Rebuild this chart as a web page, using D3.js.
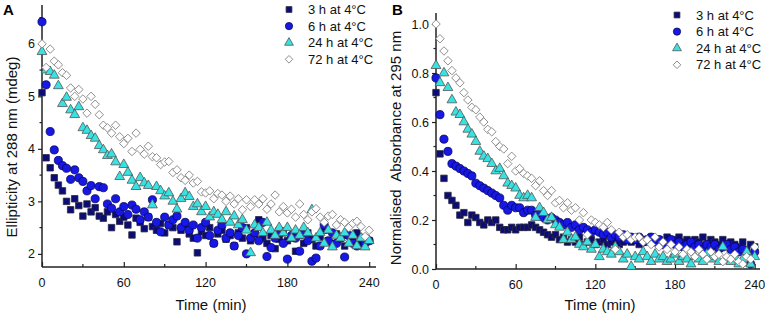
<!DOCTYPE html>
<html>
<head>
<meta charset="utf-8">
<script src="https://cdn.jsdelivr.net/npm/d3@7"></script>
<style>
  body { margin: 0; background: #fff; }
  svg { font-family: Arial, "Liberation Sans", sans-serif; }
</style>
</head>
<body>
<script>
// sampling times (min), same grid for every series
const timeMin = [0,3,6,9,12,15,18,21,24,27,30,33,36,39,42,45,48,51,54,57,60,63,66,69,72,75,78,81,84,87,90,93,96,99,102,105,108,111,114,117,120,123,126,129,132,135,138,141,144,147,150,153,156,159,162,165,168,171,174,177,180,183,186,189,192,195,198,201,204,207,210,213,216,219,222,225,228,231,234,237,240];

const seriesNames = ["3 h at 4°C", "6 h at 4°C", "24 h at 4°C", "72 h at 4°C"];

// panel A : ellipticity at 288 nm (mdeg)
const ellip3h = [5.07,3.83,3.64,3.45,3.31,3.2,3.0,2.84,3.05,2.92,2.72,2.95,2.8,2.88,2.72,2.68,2.8,2.5,2.75,2.62,2.7,2.55,2.36,2.68,2.6,2.48,2.7,2.52,2.45,2.58,2.4,2.55,2.5,2.23,2.45,2.55,2.38,2.3,2.02,2.42,2.35,2.5,2.2,2.38,2.45,2.28,2.35,2.15,2.4,2.3,2.5,2.25,2.38,2.65,2.3,2.2,2.35,2.1,2.28,2.4,2.25,2.3,2.05,2.35,2.2,2.4,2.28,2.15,2.32,2.45,2.25,2.2,2.38,2.3,2.15,2.35,2.25,2.4,2.2,2.3,2.25];
const ellip6h = [6.42,5.22,4.33,3.98,3.78,3.68,3.63,3.42,3.6,3.45,3.38,3.2,3.3,3.05,3.28,3.26,2.95,2.87,3.05,2.8,2.9,2.75,2.93,2.85,2.65,2.8,2.7,3.03,2.6,2.42,2.7,2.55,2.65,2.72,2.5,2.6,2.45,2.55,2.3,2.5,2.6,2.35,2.2,2.45,2.55,2.3,2.4,2.15,2.35,2.5,2.0,2.3,2.4,2.25,2.6,1.95,2.12,2.3,2.45,2.2,1.9,2.35,2.3,2.05,2.4,2.25,1.86,1.92,2.15,2.55,2.25,2.4,2.2,2.3,1.94,2.35,2.2,2.15,2.3,2.2,2.25];
const ellip24h = [5.85,5.5,5.47,5.4,5.2,4.86,4.98,4.74,4.65,4.8,4.4,4.35,4.25,4.2,4.06,3.98,3.87,3.9,3.75,3.47,3.7,3.55,3.4,3.28,3.45,3.35,3.3,2.93,3.28,3.2,3.1,3.16,3.0,2.85,3.05,3.16,3.09,2.9,2.95,2.8,2.9,2.7,2.8,2.75,2.65,2.8,2.6,2.72,2.55,2.65,2.45,2.02,2.55,2.5,2.4,2.6,2.45,2.35,2.5,2.4,2.5,2.3,2.45,2.35,2.5,2.4,2.84,2.3,2.4,2.2,2.45,2.13,2.35,2.3,2.4,2.2,2.35,2.15,2.3,2.13,2.25];
const ellip72h = [6.0,5.55,5.9,5.67,5.6,5.45,5.4,5.16,5.0,5.13,4.95,4.68,5.0,4.85,4.65,4.45,4.4,4.3,4.45,4.23,4.1,4.2,3.95,4.3,3.99,3.9,4.05,3.85,3.83,3.7,3.75,3.76,3.55,3.6,3.45,3.4,3.5,3.35,3.38,3.18,3.16,3.2,3.05,3.15,3.12,3.0,3.1,2.95,3.05,2.84,3.03,2.9,3.03,2.95,3.05,2.85,2.95,3.12,2.8,2.9,2.78,2.85,2.7,2.95,2.75,2.65,2.8,2.86,2.7,2.6,2.72,2.75,2.55,2.65,2.6,2.5,2.58,2.62,2.52,2.33,2.45];

// panel B : normalised absorbance at 295 nm
const abs3h = [0.72,0.47,0.37,0.3,0.28,0.26,0.22,0.23,0.19,0.22,0.21,0.19,0.18,0.2,0.19,0.2,0.17,0.16,0.16,0.17,0.16,0.17,0.17,0.17,0.18,0.17,0.16,0.15,0.14,0.13,0.14,0.12,0.13,0.11,0.12,0.11,0.13,0.1,0.11,0.12,0.1,0.11,0.12,0.1,0.11,0.12,0.1,0.11,0.13,0.11,0.12,0.1,0.12,0.11,0.13,0.11,0.12,0.1,0.13,0.11,0.12,0.13,0.11,0.12,0.1,0.12,0.11,0.13,0.1,0.12,0.11,0.1,0.12,0.1,0.11,0.1,0.09,0.11,0.08,0.1,0.09];
const abs6h = [0.78,0.63,0.53,0.48,0.43,0.42,0.41,0.4,0.39,0.38,0.35,0.34,0.33,0.32,0.31,0.3,0.29,0.26,0.24,0.26,0.25,0.25,0.23,0.24,0.24,0.22,0.23,0.21,0.2,0.21,0.2,0.19,0.18,0.19,0.17,0.18,0.16,0.17,0.16,0.15,0.16,0.15,0.14,0.15,0.13,0.14,0.13,0.14,0.12,0.13,0.12,0.13,0.11,0.12,0.13,0.11,0.12,0.1,0.11,0.12,0.1,0.11,0.09,0.1,0.11,0.09,0.1,0.08,0.1,0.09,0.1,0.08,0.09,0.1,0.08,0.09,0.07,0.08,0.06,0.02,0.07];
const abs24h = [0.83,0.76,0.8,0.74,0.69,0.64,0.63,0.6,0.57,0.55,0.52,0.48,0.46,0.45,0.43,0.4,0.41,0.38,0.35,0.34,0.33,0.3,0.29,0.3,0.29,0.21,0.25,0.23,0.2,0.21,0.18,0.17,0.12,0.15,0.12,0.13,0.1,0.09,0.11,0.08,0.1,0.05,0.08,0.07,0.06,0.09,0.07,0.04,0.06,0.01,0.05,0.04,0.07,0.05,0.03,0.06,0.04,0.05,0.03,0.04,0.06,0.03,0.05,0.04,0.02,0.05,0.04,0.03,0.06,0.04,0.05,0.03,0.09,0.04,0.03,0.05,0.02,0.04,0.07,0.02,0.05];
const abs72h = [1.0,0.94,0.89,0.85,0.81,0.78,0.76,0.72,0.69,0.66,0.65,0.62,0.6,0.57,0.56,0.52,0.5,0.49,0.43,0.46,0.4,0.41,0.39,0.38,0.37,0.34,0.36,0.32,0.3,0.32,0.27,0.28,0.25,0.27,0.24,0.25,0.2,0.23,0.14,0.2,0.19,0.18,0.17,0.19,0.16,0.08,0.15,0.13,0.14,0.12,0.13,0.13,0.11,0.12,0.1,0.13,0.09,0.11,0.08,0.1,0.07,0.09,0.06,0.08,0.07,0.05,0.08,0.06,0.04,0.07,0.05,0.06,0.03,0.05,0.04,0.06,0.03,0.02,0.05,0.04,0.09];

// tick values
const timeTicks = [0, 60, 120, 180, 240];
const timeMinor = [30, 90, 150, 210];
const ellipTicks = [2, 3, 4, 5, 6];
const ellipMinor = [2.5, 3.5, 4.5, 5.5, 6.5];
const absTicks = [0, 0.2, 0.4, 0.6, 0.8, 1.0];
const absMinor = [0.1, 0.3, 0.5, 0.7, 0.9];

// marker look for each series, in legend order
const styles = [
    {shape: d3.symbolSquare, size: 42, fill: "#0c0c78", stroke: "#2a2a40", rot: 0},
    {shape: d3.symbolCircle, size: 52, fill: "#1818e6", stroke: "#06065a", rot: 0},
    {shape: d3.symbolTriangle, size: 42, fill: "#36e2e2", stroke: "#555", rot: 0},
    {shape: d3.symbolSquare, size: 36, fill: "#ffffff", stroke: "#7a7a7a", rot: 45}
];

const svg = d3.select("body").append("svg")
    .attr("width", 765)
    .attr("height", 315);

function Panel(cfg) {
    let obj = {};
    let g, xscale, yscale;

    obj.setUp = () => {
        g = svg.append("g");
        xscale = d3.scaleLinear().domain(cfg.xDomain).range(cfg.xRange);
        yscale = d3.scaleLinear().domain(cfg.yDomain).range(cfg.yRange);
        obj.drawAxes();
        obj.drawPoints();
        obj.drawLegend();
        obj.drawTitles();
    }

    obj.drawAxes = () => {
        const y0 = cfg.yRange[0];
        const x0 = cfg.xRange[0];

        // x axis, ticks point into the plot
        const xa = g.append("g").attr("transform", "translate(0," + y0 + ")");
        xa.call(d3.axisTop(xscale).tickValues(timeTicks).tickSize(5).tickFormat(""));
        xa.call(ax => ax.select(".domain").remove());
        xa.selectAll("g.minor").data(timeMinor).enter()
            .append("line")
            .attr("x1", d => xscale(d)).attr("x2", d => xscale(d))
            .attr("y1", 0).attr("y2", -3);
        xa.selectAll("line").attr("stroke", "#222").attr("stroke-width", 1.2);
        xa.append("line")
            .attr("x1", cfg.xRange[0]).attr("x2", cfg.xRange[1])
            .attr("stroke", "#222").attr("stroke-width", 1.5);
        xa.selectAll("text.lab").data(timeTicks).enter()
            .append("text")
            .attr("x", d => xscale(d))
            .attr("y", 20)
            .attr("text-anchor", "middle")
            .attr("font-size", 12.5)
            .attr("fill", "#111")
            .text(d => d);

        // y axis, ticks point outwards
        const ya = g.append("g").attr("transform", "translate(" + x0 + ",0)");
        ya.call(d3.axisLeft(yscale).tickValues(cfg.yTicks).tickSize(4).tickPadding(3)
            .tickFormat(cfg.yFormat));
        ya.select(".domain").remove();
        ya.selectAll(".minor").data(cfg.yMinor).enter()
            .append("line")
            .attr("x1", 0).attr("x2", -2.5)
            .attr("y1", d => yscale(d)).attr("y2", d => yscale(d));
        ya.selectAll("line").attr("stroke", "#222").attr("stroke-width", 1.2);
        ya.append("line")
            .attr("y1", cfg.yRange[0]).attr("y2", cfg.yRange[1])
            .attr("stroke", "#222").attr("stroke-width", 1.5);
        ya.selectAll("text")
            .attr("font-size", 12.5)
            .attr("font-family", "Arial, 'Liberation Sans', sans-serif")
            .attr("fill", "#111");
    }

    obj.drawPoints = () => {
        cfg.series.forEach((vals, k) => {
            const st = styles[k];
            const sym = d3.symbol().type(st.shape).size(st.size);
            g.append("g").selectAll("path")
                .data(vals)
                .enter()
                .append("path")
                .attr("d", sym)
                .attr("transform", (d, i) => "translate(" + xscale(timeMin[i]) + "," + yscale(d) + ") rotate(" + st.rot + ")")
                .attr("fill", st.fill)
                .attr("stroke", st.stroke)
                .attr("stroke-width", 0.8);
        });
    }

    obj.drawLegend = () => {
        const lg = g.append("g");
        seriesNames.forEach((name, k) => {
            const st = styles[k];
            const y = cfg.legend.y + k * cfg.legend.step;
            lg.append("path")
                .attr("d", d3.symbol().type(st.shape).size(st.size * 0.8))
                .attr("transform", "translate(" + cfg.legend.x + "," + y + ") rotate(" + st.rot + ")")
                .attr("fill", st.fill)
                .attr("stroke", st.stroke)
                .attr("stroke-width", 0.8);
            lg.append("text")
                .attr("x", cfg.legend.x + 19)
                .attr("y", y + 4.5)
                .attr("font-size", 13)
                .attr("fill", "#111")
                .text(name);
        });
    }

    obj.drawTitles = () => {
        const midX = (cfg.xRange[0] + cfg.xRange[1]) / 2;
        g.append("text")
            .attr("x", midX + 2)
            .attr("y", 310)
            .attr("text-anchor", "middle")
            .attr("font-size", 15)
            .attr("fill", "#111")
            .text("Time (min)");
        g.append("text")
            .attr("transform", "translate(" + cfg.yTitleX + "," + cfg.yTitleY + ") rotate(-90)")
            .attr("text-anchor", "middle")
            .attr("font-size", cfg.yTitleSize)
            .attr("fill", "#111")
            .style("white-space", "pre")
            .text(cfg.yTitle);
        g.append("text")
            .attr("x", cfg.letter.x)
            .attr("y", cfg.letter.y)
            .attr("font-size", 15)
            .attr("font-weight", "bold")
            .attr("fill", "#000")
            .text(cfg.letter.t);
    }

    return obj;
}

const panelA = Panel({
    xDomain: [0, 245], xRange: [42, 376],
    yDomain: [1.75, 6.74], yRange: [267, 5],
    yTicks: ellipTicks, yMinor: ellipMinor, yFormat: d3.format("d"),
    series: [ellip3h, ellip6h, ellip24h, ellip72h],
    legend: {x: 289, y: 9.5, step: 16.6},
    yTitle: "Ellipticity at 288 nm (mdeg)", yTitleX: 17, yTitleY: 147, yTitleSize: 15,
    letter: {x: 3, y: 15, t: "A"}
});
panelA.setUp();

const panelB = Panel({
    xDomain: [0, 244], xRange: [436, 760],
    yDomain: [0, 1.045], yRange: [269, 13],
    yTicks: absTicks, yMinor: absMinor, yFormat: d3.format(".1f"),
    series: [abs3h, abs6h, abs24h, abs72h],
    legend: {x: 677, y: 15, step: 16.6},
    yTitle: "Normalised  Absorbance at 295 nm", yTitleX: 401, yTitleY: 148, yTitleSize: 15,
    letter: {x: 392, y: 15, t: "B"}
});
panelB.setUp();
</script>
</body>
</html>
